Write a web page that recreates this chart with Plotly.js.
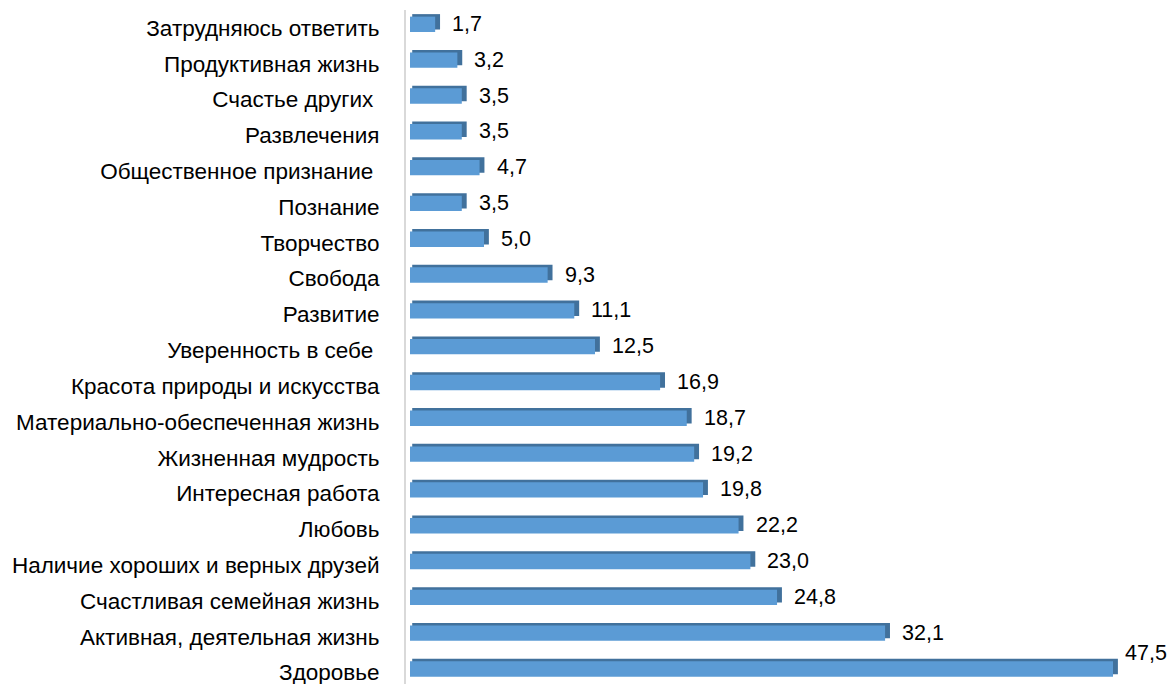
<!DOCTYPE html>
<html>
<head>
<meta charset="utf-8">
<script src="https://cdn.plot.ly/plotly-3.0.1.min.js"></script>
<style>html,body{margin:0;padding:0;background:#fff}#chart{width:1170px;height:684px}</style>
</head>
<body>
<div id="chart"></div>
<script>
// Categories top to bottom
const categories = [
  "Затрудняюсь ответить",
  "Продуктивная жизнь",
  "Счастье других\u00a0",
  "Развлечения",
  "Общественное признание\u00a0",
  "Познание",
  "Творчество",
  "Свобода",
  "Развитие",
  "Уверенность в себе\u00a0",
  "Красота природы и искусства",
  "Материально-обеспеченная жизнь",
  "Жизненная мудрость",
  "Интересная работа",
  "Любовь",
  "Наличие хороших и верных друзей",
  "Счастливая семейная жизнь",
  "Активная, деятельная жизнь",
  "Здоровье"
];
const values = [1.7, 3.2, 3.5, 3.5, 4.7, 3.5, 5.0, 9.3, 11.1, 12.5, 16.9, 18.7, 19.2, 19.8, 22.2, 23.0, 24.8, 32.1, 47.5];
const labels = values.map(v => v.toFixed(1).replace('.', ','));

const W = 0.43;       // bar thickness (category units)
const LIFT = 0.1;     // bars sit slightly above label centre
const DEPTH_X = 0.33; // 3D depth along value axis
const DEPTH_Y = 0.07; // 3D depth along category axis
const FONT = 'Liberation Sans, Arial, sans-serif';

const back = {
  type: 'bar', orientation: 'h',
  y: categories, x: values.map(v => v + DEPTH_X - 0.15), base: 0.15,
  width: W, offset: -W / 2 - LIFT - DEPTH_Y,
  marker: {color: '#41719c', line: {width: 0}},
  hoverinfo: 'skip', showlegend: false
};
const front = {
  type: 'bar', orientation: 'h',
  y: categories, x: values,
  width: W, offset: -W / 2 - LIFT,
  marker: {color: '#5b9bd5', line: {width: 0}},
  hoverinfo: 'skip', showlegend: false
};

const annotations = categories.map((c, i) => {
  const last = i === categories.length - 1;
  return {
    x: values[i], y: c, xref: 'x', yref: 'y',
    text: labels[i], showarrow: false,
    xanchor: 'left', yanchor: 'middle',
    xshift: last ? 10 : 15, yshift: last ? 20 : 4,
    font: {family: FONT, size: 21.5, color: '#000'}
  };
});

const layout = {
  width: 1170, height: 684,
  margin: {l: 406, r: 0, t: 10, b: 0, pad: 0},
  paper_bgcolor: '#fff', plot_bgcolor: '#fff',
  barmode: 'overlay',
  font: {family: FONT, size: 22, color: '#000'},
  xaxis: {range: [-0.27, 51.35], showgrid: false, zeroline: false, showticklabels: false, showline: false, ticks: ''},
  yaxis: {
    type: 'category', categoryorder: 'array', categoryarray: categories,
    range: [18.32, -0.5],
    showgrid: false, zeroline: false,
    showline: true, linecolor: '#d9d9d9', linewidth: 2,
    ticks: '', ticklabelstandoff: 20,
    tickfont: {family: FONT, size: 22.5, color: '#000'}
  },
  annotations: annotations
};

Plotly.newPlot('chart', [back, front], layout, {staticPlot: true, displayModeBar: false});
</script>
</body>
</html>
